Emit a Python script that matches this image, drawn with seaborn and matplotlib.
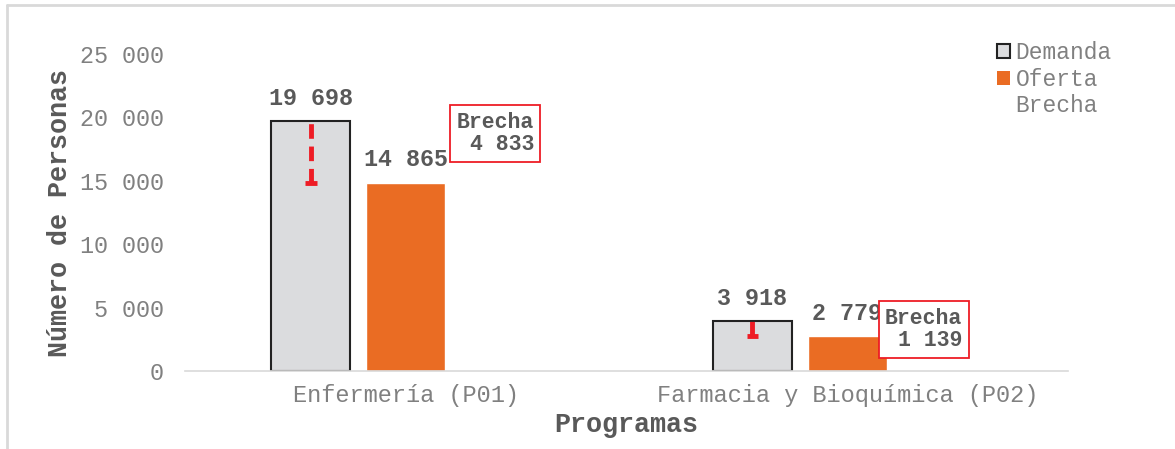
import pandas as pd
import matplotlib.pyplot as plt
import seaborn as sns
from matplotlib.lines import Line2D

# datos
programas = ["Enfermería (P01)", "Farmacia y Bioquímica (P02)"]
demanda = [19698, 3918]
oferta = [14865, 2779]
brecha = [4833, 1139]
series = ["Demanda", "Oferta", "Brecha"]
yticks = [0, 5000, 10000, 15000, 20000, 25000]

def fmt(v):
    return f"{v:,.0f}".replace(",", " ")

df = pd.DataFrame({
    "Programas": programas * 3,
    "Serie": ["Demanda"] * 2 + ["Oferta"] * 2 + ["Brecha"] * 2,
    "Valor": demanda + oferta + brecha,
})

sns.set_style("white")
plt.rcParams["font.family"] = ["Liberation Mono", "DejaVu Sans"]

fig = plt.figure(figsize=(11.75, 4.49), dpi=100)
ax = fig.add_axes([0.1574, 0.1737, 0.7515, 0.706])

colores = {"Demanda": "#DBDCDE", "Oferta": "#EA6C23", "Brecha": (1, 1, 1, 0)}
sns.barplot(data=df, x="Programas", y="Valor", hue="Serie", hue_order=series,
            palette=colores, width=0.645, gap=0.17, ax=ax, legend=False,
            saturation=1, errorbar=None)

cont_dem, cont_of, cont_br = ax.containers
for b in cont_dem:
    b.set_edgecolor("#222222")
    b.set_linewidth(1.5)
for b in cont_br:
    b.set_alpha(0)

ax.bar_label(cont_dem, labels=[fmt(v) for v in demanda], padding=8,
             fontsize=16.8, fontweight="bold", color="#595959")
ax.bar_label(cont_of, labels=[fmt(v) for v in oferta], padding=8,
             fontsize=16.8, fontweight="bold", color="#595959")

# linea de brecha (roja, punteada)
for b, d, o in zip(cont_dem, demanda, oferta):
    xc = b.get_x() + b.get_width() / 2
    ax.vlines(xc, o, d, colors="#EE1C25", linestyles=(0, (3, 1.6)), linewidth=3.5, zorder=4)
    ax.hlines(o, xc - 0.013, xc + 0.013, colors="#EE1C25", linewidth=3.5, zorder=4)

# cajas de brecha
offs = [(0.203, 18730), (0.173, 3270)]
for i, (b, g) in enumerate(zip(cont_br, brecha)):
    ax.text(i + offs[i][0], offs[i][1], f"Brecha\n{fmt(g)}", ha="center", va="center",
            multialignment="right", fontsize=15.5, fontweight="bold", color="#595959",
            linespacing=1.1,
            bbox=dict(boxstyle="square,pad=0.3", fc="white", ec="#EE1C25", lw=1.3),
            zorder=5)

ax.set_xlim(-0.5, 1.5)
ax.set_ylim(0, 25000)
ax.set_yticks(yticks)
ax.set_yticklabels([fmt(v) for v in yticks])
ax.tick_params(axis="y", length=0, pad=15, labelsize=16.8, labelcolor="#808080")
ax.tick_params(axis="x", length=0, pad=9, labelsize=17, labelcolor="#808080")
for s in ["top", "right", "left"]:
    ax.spines[s].set_visible(False)
ax.spines["bottom"].set_color("#D9D9D9")
ax.spines["bottom"].set_linewidth(1.2)

ax.set_xlabel("Programas", fontsize=19.3, fontweight="bold", color="#595959", labelpad=4)
ax.set_ylabel("Número de Personas", fontsize=19.3, fontweight="bold", color="#595959", labelpad=5)

handles = [
    plt.Rectangle((0, 0), 1, 1, fc="#DBDCDE", ec="#222222", lw=1.5),
    plt.Rectangle((0, 0), 1, 1, fc="#EA6C23", ec="none"),
    plt.Rectangle((0, 0), 1, 1, fc="none", ec="none"),
]
fig.legend(handles, series, loc="upper left", bbox_to_anchor=(0.839, 0.934),
           frameon=False, fontsize=16.5, labelcolor="#808080", handlelength=0.55,
           handleheight=0.55, handletextpad=0.25, labelspacing=0.16, borderpad=0)

# marco
fig.add_artist(Line2D([0.006, 1.0], [0.989, 0.989], color="#D9D9D9", lw=2))
fig.add_artist(Line2D([0.006, 0.006], [0.0, 0.989], color="#D9D9D9", lw=2))

plt.savefig("out.png", dpi=100)
